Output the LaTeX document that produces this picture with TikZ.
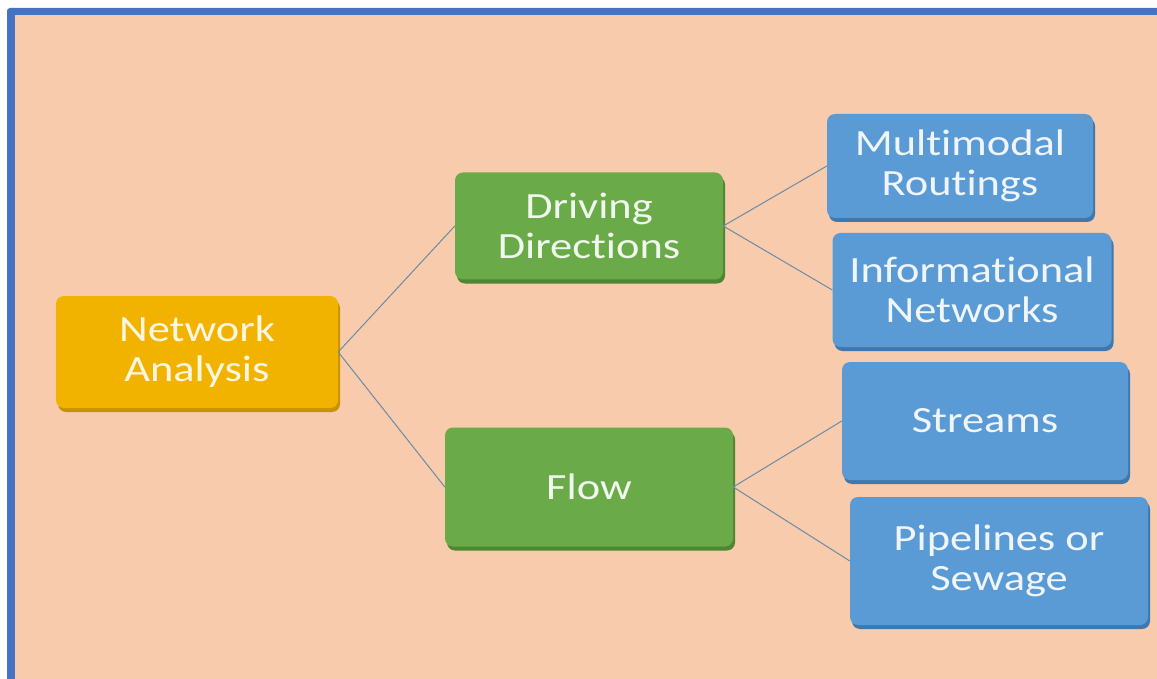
\documentclass[tikz,border=0pt]{standalone}
\usepackage{fontspec}
\setmainfont{Carlito}[FakeStretch=1.2, Ligatures={NoCommon}]
\usetikzlibrary{shadows}
\definecolor{peach}{HTML}{F7CBAC}
\definecolor{frameblue}{HTML}{4472C4}
\definecolor{gold}{HTML}{F2B300}
\definecolor{golddark}{HTML}{C99200}
\definecolor{leaf}{HTML}{6AAA48}
\definecolor{leafdark}{HTML}{4E8733}
\definecolor{sky}{HTML}{5B9BD5}
\definecolor{skydark}{HTML}{3F78AE}
\definecolor{linkcol}{HTML}{6A8CA6}
\tikzset{
  box/.style={rounded corners=8pt, inner sep=0pt, align=center,
    font=\fontsize{37}{40}\selectfont},
  rootbox/.style={box, fill=gold, text=white!88!gold,
    drop shadow={shadow xshift=2pt, shadow yshift=-4pt, fill=golddark, opacity=1}},
  midbox/.style={box, fill=leaf, text=white!90!leaf,
    drop shadow={shadow xshift=2pt, shadow yshift=-4pt, fill=leafdark, opacity=1}},
  leafbox/.style={box, fill=sky, text=white!90!sky,
    drop shadow={shadow xshift=2pt, shadow yshift=-4pt, fill=skydark, opacity=1}},
  link/.style={draw=linkcol, line width=1pt}
}
\begin{document}
\begin{tikzpicture}[x=1pt,y=-1pt]
\useasboundingbox[fill=white] (0,0) rectangle (1157,679);
\fill[frameblue, rounded corners=3pt] (7,8) rectangle (1170,700);
\fill[peach] (15,15) rectangle (1157,679);

\node[rootbox, minimum width=282pt, minimum height=112pt] (na) at (197,352) {Network\\Analysis};
\node[midbox, minimum width=268pt, minimum height=107pt] (dd) at (589,226) {Driving\\Directions};
\node[midbox, minimum width=288pt, minimum height=119pt] (fl) at (589,487) {Flow};
\node[leafbox, minimum width=266pt, minimum height=104pt] (mm) at (960,166) {Multimodal\\Routings};
\node[leafbox, minimum width=279pt, minimum height=114pt] (inf) at (972,290) {Informational\\Networks};
\node[leafbox, minimum width=286pt, minimum height=118pt] (st) at (985,421) {Streams};
\node[leafbox, minimum width=298pt, minimum height=128pt] (pip) at (999,561) {Pipelines or\\Sewage};

\draw[link] (na.east) -- (dd.west);
\draw[link] (na.east) -- (fl.west);
\draw[link] (dd.east) -- (mm.west);
\draw[link] (dd.east) -- (inf.west);
\draw[link] (fl.east) -- (st.west);
\draw[link] (fl.east) -- (pip.west);
\end{tikzpicture}
\end{document}
